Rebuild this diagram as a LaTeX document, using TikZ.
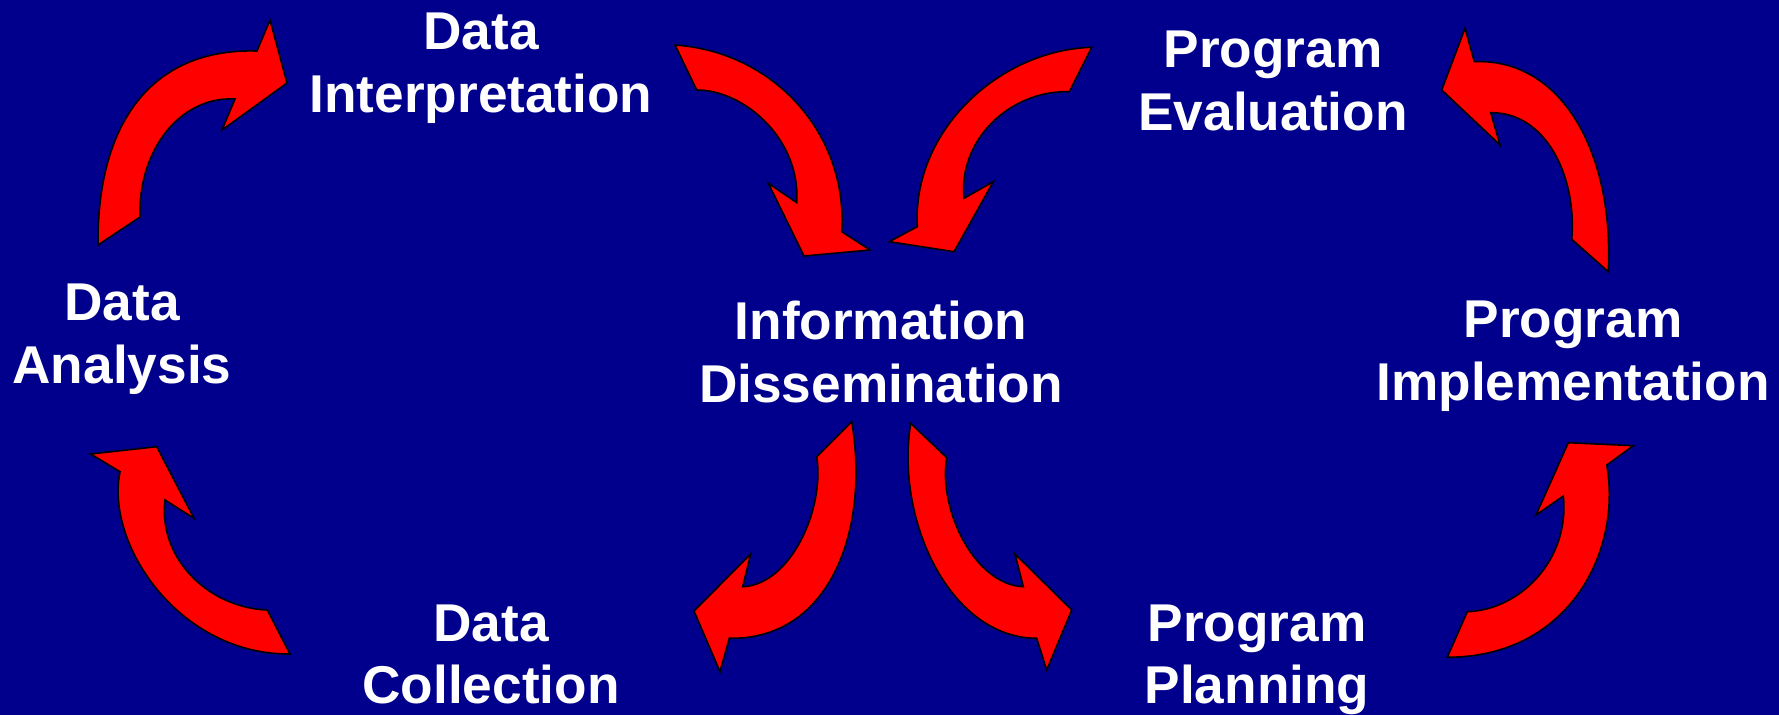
\documentclass[tikz,border=0pt]{standalone}
\usepackage{fontspec}
\setmainfont{Liberation Sans}
\usetikzlibrary{positioning}
\definecolor{clSlide}{RGB}{0,0,140}
\definecolor{clArrow}{RGB}{255,0,0}
\tikzset{
  stage/.style={align=center, inner sep=0pt, anchor=north, text=white,
                font=\bfseries\fontsize{26.6}{31.2}\selectfont},
  cyclearrow/.style={draw=black, line width=0.8pt, fill=clArrow, line join=miter},
}

\begin{document}
\begin{tikzpicture}[x=0.5pt, y=-0.5pt]
  \useasboundingbox (0,0) rectangle (1779,715);
  \fill[clSlide] (0,0) rectangle (1779,715);

  \node[stage] (interp) at (481,13) {Data\\Interpretation};
  \node[stage] (analysis) at (122,284) {Data\\Analysis};
  \node[stage] (dissem) at (881,301) {Information\\Dissemination};
  \node[stage] (evaluation) at (1273,31) {Program\\Evaluation};
  \node[stage] (implement) at (1573,301) {Program\\Implementation};
  \node[stage] (collection) at (491,604) {Data\\Collection};
  \node[stage] (planning) at (1257,604) {Program\\Planning};

  \draw[cyclearrow] (98,245) .. controls (97,125) and (150,48) .. (257,51) -- (270,20) -- (287,83)
    -- (222,130) -- (235,99) .. controls (180,96) and (138,150) .. (140,217) -- cycle;
  \draw[cyclearrow] (675,45) .. controls (775,52) and (848,135) .. (841.7,231.7) -- (870,250) -- (804,256)
    -- (768.3,183.3) -- (796.7,202.7) .. controls (801,140) and (745,90) .. (696.7,90) -- cycle;
  \draw[cyclearrow] (1091.7,47.3) .. controls (1000,50) and (912,130) .. (917.3,226.7) -- (889.3,241.7) -- (954,251.7)
    -- (993.3,181.7) -- (964,198.3) .. controls (958,140) and (1010,90) .. (1069.3,91.7) -- cycle;
  \draw[cyclearrow] (1608.3,271.7) .. controls (1614,150) and (1560,58) .. (1474.3,61.7) -- (1465,28.3) -- (1441.7,90)
    -- (1500,145) -- (1490.7,112.7) .. controls (1545,112) and (1577,175) .. (1571.7,239.3) -- cycle;
  \draw[cyclearrow] (851.7,421.7) .. controls (870,530) and (830,640) .. (729.3,638.3) -- (720,671.7) -- (694,611)
    -- (750.7,554) -- (742.7,586.7) .. controls (790,585) and (825,510) .. (816.7,456.7) -- cycle;
  \draw[cyclearrow] (910.7,423.3) .. controls (895,520) and (950,638) .. (1036.7,638.3) -- (1046.7,670) -- (1071.7,610)
    -- (1015,554) -- (1023.3,586.7) .. controls (975,585) and (938,510) .. (946.7,457.7) -- cycle;
  \draw[cyclearrow] (1447.3,657.3) .. controls (1570,657) and (1622,550) .. (1606.7,465) -- (1633.3,445.7) -- (1568.3,442.7)
    -- (1536,515) -- (1563.3,496) .. controls (1570,560) and (1520,610) .. (1467.3,611.7) -- cycle;
  \draw[cyclearrow] (290,654) .. controls (180,655) and (105,545) .. (120,471.7) -- (90.7,454) -- (156.7,446.7)
    -- (194,518.3) -- (165,500) .. controls (158,560) and (210,608) .. (267.3,610) -- cycle;
\end{tikzpicture}
\end{document}
